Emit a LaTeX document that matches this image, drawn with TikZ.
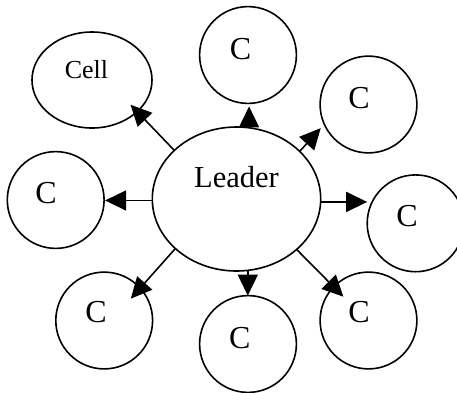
\documentclass[tikz,border=0pt]{standalone}
\usepackage{fontspec}
\setmainfont{Liberation Serif}
\usetikzlibrary{shapes.geometric,arrows.meta}
\begin{document}
\begin{tikzpicture}[x=1pt,y=-1pt,
  outline/.style={draw,line width=1.6pt,inner sep=0pt,outer sep=0pt},
  leaderbox/.style={outline,ellipse,minimum width=168.4pt,minimum height=144pt},
  cellbox/.style={outline,ellipse,minimum width=120pt,minimum height=96pt},
  cbox/.style={outline,circle,minimum size=96.8pt},
  lbl/.style={anchor=base,inner sep=0pt,font=\fontsize{32}{32}\selectfont},
  arr/.style={line width=1.6pt,-{Triangle[length=21pt,width=20pt]}}]
\useasboundingbox (0,0) rectangle (457,392);

% shapes
\node[leaderbox] (L) at (236.5,199) {};
\node[cellbox] (cell) at (92,80) {};
\node[cbox] (ct)  at (248,55) {};
\node[cbox] (cur) at (368.5,104.5) {};
\node[cbox] (cr)  at (415.6,223.3) {};
\node[cbox] (cbr) at (368.5,320.5) {};
\node[cbox] (cb)  at (248,344) {};
\node[cbox] (cbl) at (104.2,320.5) {};
\node[cbox] (cl)  at (55.7,200) {};

% labels
\node[lbl,font=\fontsize{30.5}{30.5}\selectfont] (tL) at (236.5,187) {Leader};
\node[lbl,font=\fontsize{26}{26}\selectfont] (tcell) at (86.5,78) {Cell};
\node[lbl] (tct)  at (240.5,59.5) {C};
\node[lbl] (tcur) at (359,108) {C};
\node[lbl] (tcr)  at (407,226) {C};
\node[lbl] (tcbr) at (359,322.5) {C};
\node[lbl] (tcb)  at (239.7,348) {C};
\node[lbl] (tcbl) at (96,322.5) {C};
\node[lbl] (tcl)  at (46,203) {C};

% arrows from the leader
\draw[arr,shorten >=-9.6pt] (L.142) -- (cell.325.1);
\draw[arr,shorten >=3pt] (L.80.4) -- (L.80.4 |- ct.south);
\draw[arr,shorten >=5.3pt] (L.37.9) -- (cur.204.8);
\draw[arr] (L.358.8) -- (L.358.8 -| cr.west);
\draw[arr,shorten >=-13.8pt] (L.320.4) -- (cbr.136.6);
\draw[arr] (L.279.8) -- (L.279.8 |- cb.north);
\draw[arr,shorten >=-14.1pt] (L.219.6) -- (cbl.42.7);
\draw[arr,shorten >=1pt] (L.181.2) -- (L.181.2 -| cl.east);
\end{tikzpicture}
\end{document}
